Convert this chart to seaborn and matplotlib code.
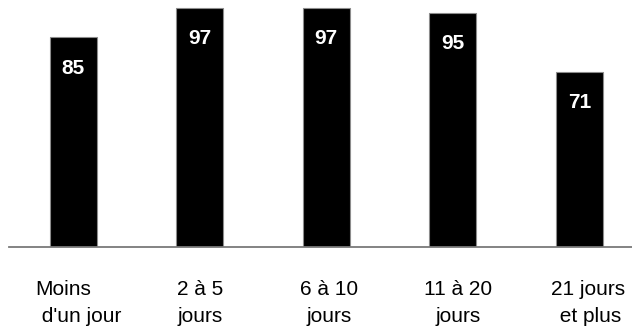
import matplotlib
matplotlib.use("Agg")
import matplotlib.pyplot as plt
from matplotlib import font_manager
import seaborn as sns
import pandas as pd

# Durée de l'absence et valeur associée
categories = ["Moins\n d'un jour", "2 à 5\njours", "6 à 10\njours", "11 à 20\njours", "21 jours\n et plus"]
values = [85, 97, 97, 95, 71]

# small horizontal nudges of the category labels (in category units)
label_shift = [0.04, 0.0, 0.02, 0.045, 0.07]

sns.set_theme(style="white")
installed = {f.name for f in font_manager.fontManager.ttflist}
narrow = "Liberation Sans Narrow" if "Liberation Sans Narrow" in installed else "Liberation Sans"
plt.rcParams["font.family"] = ["Liberation Sans", "DejaVu Sans"]

df = pd.DataFrame({"cat": categories, "val": values})

fig = plt.figure(figsize=(6.32, 3.30), dpi=100)
ax = fig.add_axes([9.3 / 632, 83.3 / 330, 1 - 9.3 / 632, 1 - 83.3 / 330])

sns.barplot(data=df, x="cat", y="val", color="black", saturation=1,
            width=0.369, edgecolor="#8c8c8c", linewidth=0.8, ax=ax)

for i, v in enumerate(values):
    ax.text(i, v - 12.6, f"{v}", color="white", ha="center", va="center",
            fontsize=16.5 if narrow != "Liberation Sans" else 15,
            fontweight="bold", family=[narrow, "DejaVu Sans"])

ax.set_xlim(-0.506, 4.417)
ax.set_ylim(0, 100.2)

ax.set_xticks([i + s for i, s in enumerate(label_shift)])
ax.set_xticklabels(categories, fontsize=15, linespacing=1.5)
for lab in ax.get_xticklabels():
    lab.set_multialignment("left" if lab.get_text().startswith("Moins") else "center")
ax.tick_params(axis="x", length=0, pad=24, colors="black")
ax.set_yticks([])
ax.set_xlabel("")
ax.set_ylabel("")

for side in ["top", "right", "left"]:
    ax.spines[side].set_visible(False)
ax.spines["bottom"].set_color("#7a7a7a")
ax.spines["bottom"].set_linewidth(1.3)

fig.savefig("out.png", dpi=100)
